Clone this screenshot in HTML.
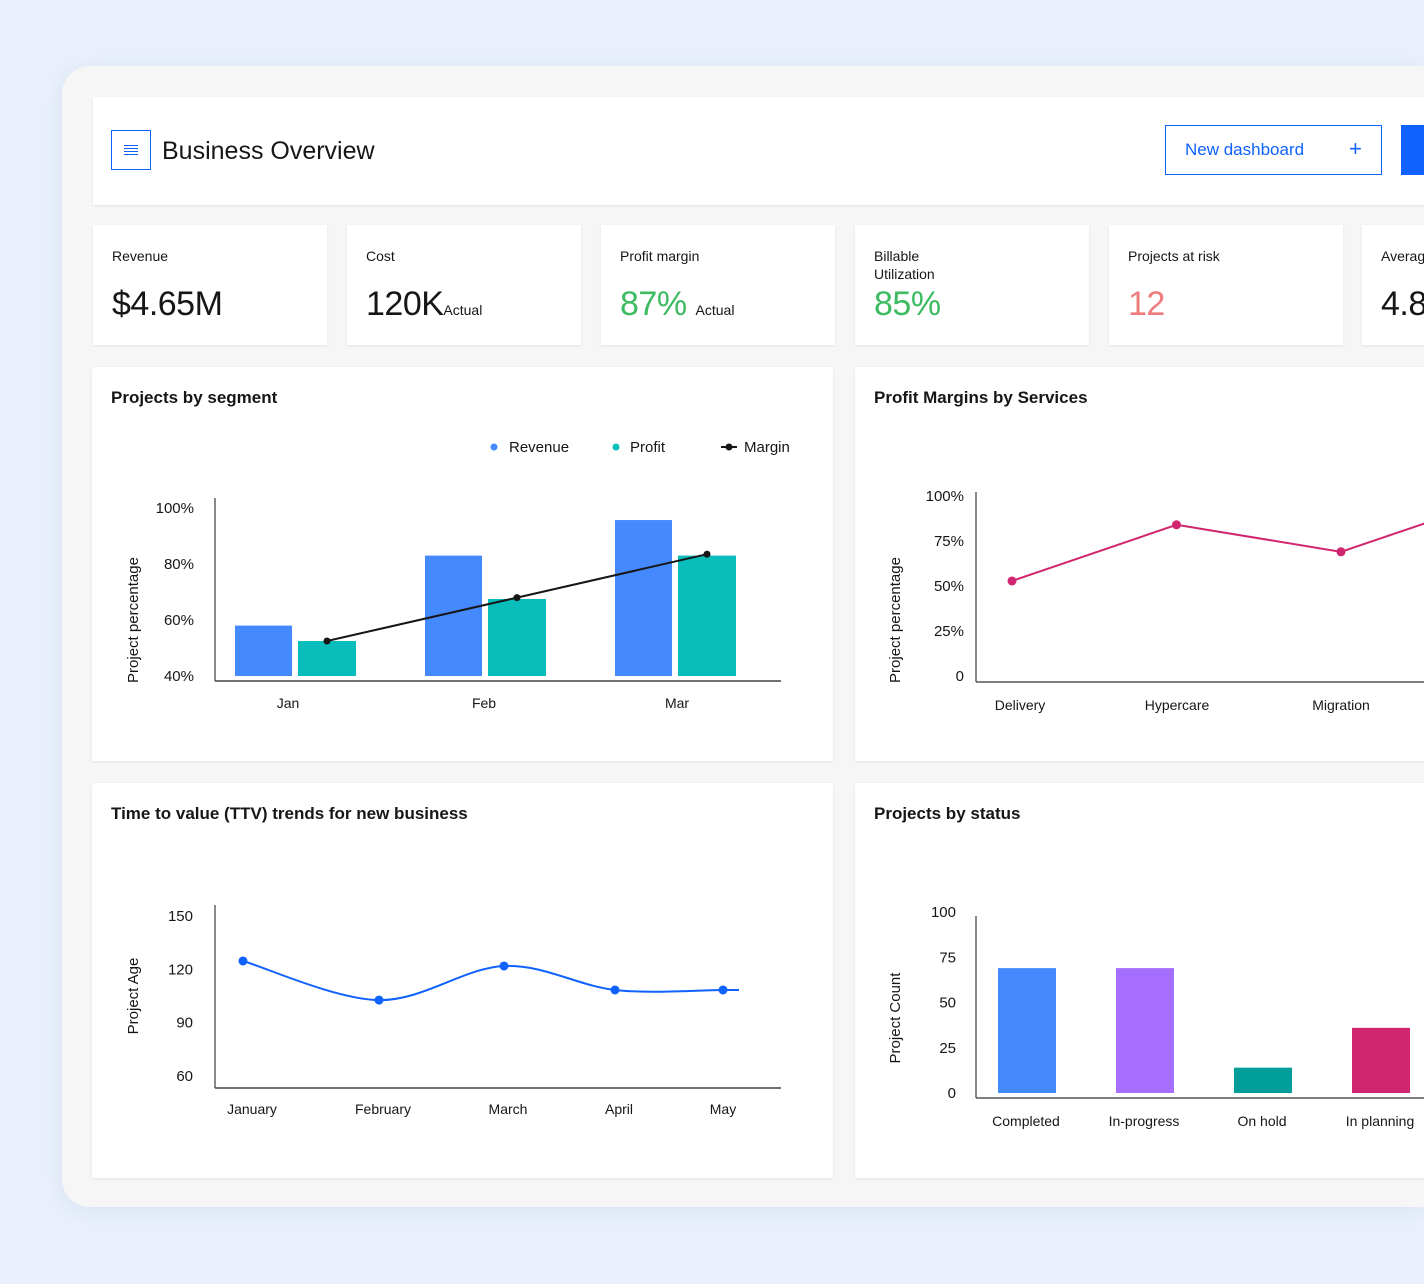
<!DOCTYPE html>
<html><head><meta charset="utf-8"><style>
*{box-sizing:border-box;margin:0;padding:0}
html,body{width:1424px;height:1284px;overflow:hidden}
body{background:#eaf1fc;font-family:"Liberation Sans",sans-serif;color:#161616}
#wrap{position:relative;width:1424px;height:1284px;overflow:hidden}
.panel{position:absolute;left:62px;top:66px;width:1362px;height:1141px;background:#f6f6f6;border-radius:28px 0 0 28px;box-shadow:0 4px 24px rgba(120,140,180,.15)}
.card{position:absolute;background:#fff;box-shadow:0 1px 3px rgba(0,0,0,.08);overflow:hidden}
.kl{position:absolute;left:19px;top:22px;font-size:14px;line-height:18px;color:#161616}
.kv{position:absolute;left:19px;top:60px;font-size:34px;letter-spacing:-.5px;white-space:nowrap}
.ks{font-size:14px;letter-spacing:0}
.ct{position:absolute;left:19px;top:21px;font-size:17px;font-weight:bold}
svg text{font-family:"Liberation Sans",sans-serif}
</style></head><body>
<div id="wrap">
<div class="panel"></div>
<div class="card" style="left:93px;top:97px;width:1331px;height:108px">
  <div style="position:absolute;left:18px;top:33px;width:40px;height:40px;border:1.5px solid #0f62fe">
    <div style="position:absolute;left:12px;top:14px;width:14px;height:1px;background:#0f62fe;box-shadow:0 3px 0 #0f62fe,0 6px 0 #0f62fe,0 9px 0 #0f62fe"></div>
  </div>
  <div style="position:absolute;left:69px;top:40px;font-size:25px">Business Overview</div>
  <div style="position:absolute;left:1072px;top:28px;width:217px;height:50px;border:1.5px solid #0f62fe;color:#0f62fe;font-size:17px">
    <span style="position:absolute;left:19px;top:14px">New dashboard</span><span style="position:absolute;left:183px;top:10px;font-size:22px">+</span>
  </div>
  <div style="position:absolute;left:1308px;top:28px;width:60px;height:50px;background:#0f62fe"></div>
</div>
<div class="card" style="left:93px;top:225px;width:234px;height:120px"><div class="kl">Revenue</div><div class="kv">$4.65M</div></div>
<div class="card" style="left:347px;top:225px;width:234px;height:120px"><div class="kl">Cost</div><div class="kv">120K<span class="ks">Actual</span></div></div>
<div class="card" style="left:601px;top:225px;width:234px;height:120px"><div class="kl">Profit margin</div><div class="kv"><span style="color:#3dbb61">87%</span> <span class="ks">Actual</span></div></div>
<div class="card" style="left:855px;top:225px;width:234px;height:120px"><div class="kl">Billable<br>Utilization</div><div class="kv" style="color:#3dbb61">85%</div></div>
<div class="card" style="left:1109px;top:225px;width:234px;height:120px"><div class="kl">Projects at risk</div><div class="kv" style="color:#ee7c7c">12</div></div>
<div class="card" style="left:1362px;top:225px;width:62px;height:120px"><div class="kl">Average</div><div class="kv">4.8</div></div>
<div class="card" style="left:92px;top:367px;width:741px;height:394px"><div class="ct">Projects by segment</div></div>
<div class="card" style="left:855px;top:367px;width:569px;height:394px"><div class="ct">Profit Margins by Services</div></div>
<div class="card" style="left:92px;top:783px;width:741px;height:395px"><div class="ct">Time to value (TTV) trends for new business</div></div>
<div class="card" style="left:855px;top:783px;width:569px;height:395px"><div class="ct">Projects by status</div></div>
<svg id="s" width="1424" height="1284" style="position:absolute;left:0;top:0" xmlns="http://www.w3.org/2000/svg"></svg>
</div>
<script>
const segCats=["Jan","Feb","Mar"];
const segRevenue=[58,83,95.7];
const segProfit=[52.5,67.5,83];
const segMargin=[52.5,68,83.5];
const segTicks=["40%","60%","80%","100%"];
const svcCats=["Delivery","Hypercare","Migration","Support"];
const svcValues=[52.8,84,69,100];
const svcTicks=["0","25%","50%","75%","100%"];
const ttvCats=["January","February","March","April","May"];
const ttvValues=[124.7,102.7,121.9,108.4,108.4];
const ttvTicks=["60","90","120","150"];
const stCats=["Completed","In-progress","On hold","In planning"];
const stValues=[69,69,14,36];
const stTicks=["0","25","50","75","100"];
const stColors=["#4589ff","#a56eff","#009d9a","#d02670"];

const S=document.getElementById('s');const NS="http://www.w3.org/2000/svg";
function mk(t,a,txt,name){const e=document.createElementNS(NS,t);for(const k in a)e.setAttribute(k,a[k]);if(txt!==undefined)e.textContent=txt;


S.appendChild(e);return e;}
function txt(x,y,s,anchor,size,name,rot){const a={x:x,y:y,'font-size':size||14,fill:'#161616','text-anchor':anchor||'middle'};if(rot)a.transform='rotate(-90 '+x+' '+y+')';return mk('text',a,s,name);}
// Chart 1
const y1=v=>676-(v-40)*2.8;const x1=i=>295+i*190;
mk('line',{x1:215,y1:498,x2:215,y2:681,stroke:'#161616','stroke-width':1},undefined,'y-axis');
mk('line',{x1:215,y1:681,x2:781,y2:681,stroke:'#444','stroke-width':1.5},undefined,'x-axis');
segTicks.forEach((t,i)=>txt(194,y1(40+i*20)+5,t,'end',15,'y-tick'));
segCats.forEach((c,i)=>{txt([288,484,677][i],708,c,'middle',14,'x-tick');
 mk('rect',{x:x1(i)-60,y:y1(segRevenue[i]),width:57,height:676-y1(segRevenue[i]),fill:'#4589ff'},undefined,'bar-revenue-'+c.toLowerCase());
 mk('rect',{x:x1(i)+3,y:y1(segProfit[i]),width:58,height:676-y1(segProfit[i]),fill:'#08bdba'},undefined,'bar-profit-'+c.toLowerCase());});
mk('polyline',{points:segMargin.map((v,i)=>(x1(i)+32)+','+y1(v)).join(' '),fill:'none',stroke:'#161616','stroke-width':2},undefined,'margin-line');
segMargin.forEach((v,i)=>mk('circle',{cx:x1(i)+32,cy:y1(v),r:3.5,fill:'#161616'},undefined,'margin-point'));
txt(138,620,'Project percentage','middle',15,'y-axis-title',true);
mk('circle',{cx:494,cy:447,r:3.5,fill:'#4589ff'},undefined,'legend-revenue-dot');txt(509,452,'Revenue','start',15,'legend-revenue');
mk('circle',{cx:616,cy:447,r:3.5,fill:'#08bdba'},undefined,'legend-profit-dot');txt(630,452,'Profit','start',15,'legend-profit');
mk('line',{x1:721,y1:447,x2:737,y2:447,stroke:'#161616','stroke-width':2},undefined,'legend-margin-line');mk('circle',{cx:729,cy:447,r:3.5,fill:'#161616'},undefined,'legend-margin-dot');txt(744,452,'Margin','start',15,'legend-margin');
// Chart 2
const y2=v=>676-v*1.8;const x2=i=>1012+i*164.5;
mk('line',{x1:976,y1:492,x2:976,y2:682,stroke:'#161616','stroke-width':1},undefined,'y-axis');
mk('line',{x1:976,y1:682,x2:1424,y2:682,stroke:'#555','stroke-width':1.5},undefined,'x-axis');
svcTicks.forEach((t,i)=>txt(964,y2(i*25)+5,t,'end',15,'y-tick'));
svcCats.forEach((c,i)=>txt([1020,1177,1341,1505][i],710,c,'middle',14,'x-tick'));
mk('polyline',{points:svcValues.map((v,i)=>x2(i)+','+y2(v)).join(' '),fill:'none',stroke:'#d02670','stroke-width':2},undefined,'margin-line');
svcValues.forEach((v,i)=>mk('circle',{cx:x2(i),cy:y2(v),r:4.5,fill:'#d02670'},undefined,'service-point'));
txt(900,620,'Project percentage','middle',15,'y-axis-title',true);
// Chart 3
const y3=v=>1076-(v-60)*160/90;const x3=i=>[243,379,504,615,723][i];
mk('line',{x1:215,y1:905,x2:215,y2:1088,stroke:'#161616','stroke-width':1},undefined,'y-axis');
mk('line',{x1:215,y1:1088,x2:781,y2:1088,stroke:'#444','stroke-width':1.5},undefined,'x-axis');
ttvTicks.forEach((t,i)=>txt(193,y3(60+i*30)+5,t,'end',15,'y-tick'));
ttvCats.forEach((c,i)=>txt([252,383,508,619,723][i],1114,c,'middle',14,'x-tick'));
const P=ttvValues.map((v,i)=>[x3(i),y3(v)]);P.push([739,y3(ttvValues[4])]);
let d='M'+P[0][0]+','+P[0][1];
for(let i=0;i<P.length-1;i++){const p0=P[Math.max(0,i-1)],p1=P[i],p2=P[i+1],p3=P[Math.min(P.length-1,i+2)];
 const t=0.5/3;d+=' C'+(p1[0]+(p2[0]-p0[0])*t)+','+(p1[1]+(p2[1]-p0[1])*t)+' '+(p2[0]-(p3[0]-p1[0])*t)+','+(p2[1]-(p3[1]-p1[1])*t)+' '+p2[0]+','+p2[1];}
mk('path',{d:d,fill:'none',stroke:'#0f62fe','stroke-width':2},undefined,'ttv-line');
ttvValues.forEach((v,i)=>mk('circle',{cx:x3(i),cy:y3(v),r:4.5,fill:'#0f62fe'},undefined,'ttv-point'));
txt(138,996,'Project Age','middle',15,'y-axis-title',true);
// Chart 4
const y4=v=>1093-v*1.81;const x4=i=>998+i*118;
mk('line',{x1:976,y1:916,x2:976,y2:1098,stroke:'#161616','stroke-width':1},undefined,'y-axis');
mk('line',{x1:976,y1:1098,x2:1424,y2:1098,stroke:'#555','stroke-width':1.5},undefined,'x-axis');
stTicks.forEach((t,i)=>txt(956,y4(i*25)+5,t,'end',15,'y-tick'));
stCats.forEach((c,i)=>{txt(x4(i)+28,1126,c,'middle',14,'x-tick');
 mk('rect',{x:x4(i),y:y4(stValues[i]),width:58,height:1093-y4(stValues[i]),fill:stColors[i]},undefined,'bar-'+c.toLowerCase().replace(/ /g,'-'));});
txt(900,1018,'Project Count','middle',15,'y-axis-title',true);
</script>
</body></html>
